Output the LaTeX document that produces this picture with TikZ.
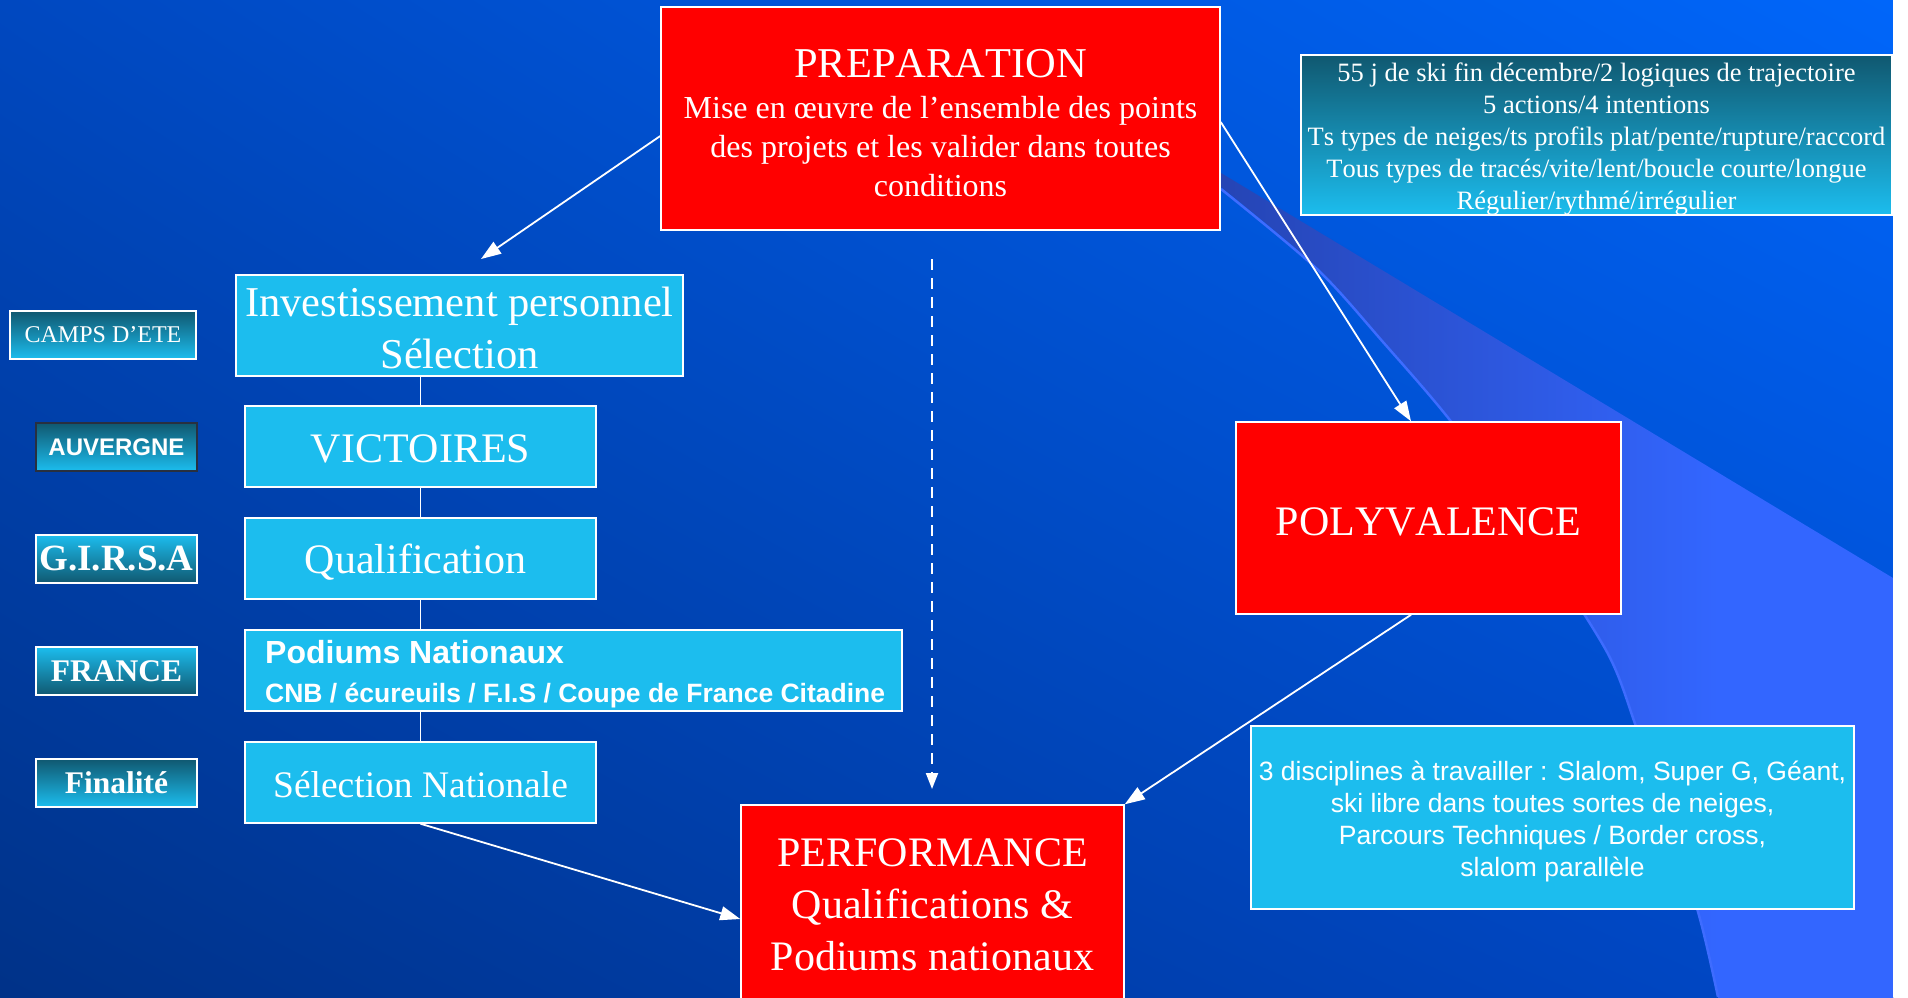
\documentclass[tikz,border=0pt]{standalone}
\usepackage{fontspec}
\setmainfont{Liberation Serif}[Kerning=Off]
\setsansfont{Liberation Sans}
\usetikzlibrary{arrows.meta,calc,shadings}
\definecolor{cyanbox}{RGB}{28,189,238}
\definecolor{tealdark}{RGB}{16,88,112}
\definecolor{redbox}{RGB}{255,0,0}
\definecolor{bgUL}{RGB}{0,72,192}
\definecolor{bgUR}{RGB}{0,102,250}
\definecolor{bgLL}{RGB}{0,50,136}
\definecolor{bgLR}{RGB}{0,72,200}
\definecolor{swA}{RGB}{28,46,130}
\definecolor{swB}{RGB}{51,102,255}
\definecolor{swEdge}{RGB}{62,108,255}
\pgfdeclarehorizontalshading{swoosh}{100bp}{color(0bp)=(swA); color(62bp)=(swB); color(100bp)=(swB)}
\tikzset{
  redn/.style={draw=white, line width=1.5pt, fill=redbox, inner sep=0pt},
  cyann/.style={draw=white, line width=1.5pt, fill=cyanbox, inner sep=0pt},
  txt/.style={text=white, align=center, inner sep=0pt},
  lab/.style={draw=white, line width=1.5pt, text=white, align=center, inner sep=0pt, minimum width=161pt, minimum height=48pt},
  darktop/.style={top color=tealdark, bottom color=cyanbox},
  lighttop/.style={top color=cyanbox, bottom color=tealdark},
  arr/.style={draw=white, line width=1.8pt, -{Triangle[length=20pt,width=14pt]}},
  link/.style={draw=white, line width=1.8pt},
  dashlink/.style={draw=white, line width=2pt, dash pattern=on 11pt off 8pt, -{Triangle[length=16pt,width=12pt]}},
}
\begin{document}
\begin{tikzpicture}[x=1pt,y=-1pt]
\useasboundingbox (0,0) rectangle (1908,997);
% background
\shade[upper left=bgUL, upper right=bgUR, lower left=bgLL, lower right=bgLR] (0,0) rectangle (1893,997);
\shade[shading=swoosh] (1221,173) -- (1893,578) -- (1893,1000) -- (1718,1000)
  -- plot[smooth] coordinates {(1718,997) (1700,917) (1665,800) (1637,727) (1607,650) (1530,530) (1453,422) (1383,340) (1317,267) (1221,187)} -- cycle;
\draw[swEdge, line width=2.5pt] plot[smooth] coordinates {(1221,189) (1317,269) (1383,342) (1453,424) (1530,532) (1607,652) (1637,729) (1665,802) (1700,919) (1718,997)};
\fill[white] (1893,0) rectangle (1908,997);

% main boxes
\node[redn, minimum width=559pt, minimum height=223pt] (prep) at (940.5,118.5) {};
\node[txt, font=\fontsize{32}{39}\selectfont] (prept) at (940.5,123.5)
  {{\fontsize{42.5}{50}\selectfont PREPARATION}\\[2pt]Mise en œuvre de l’ensemble des points\\des projets et les valider dans toutes\\conditions};
\node[draw=white, line width=1.5pt, top color=tealdark, bottom color=cyanbox, inner sep=0pt,
  minimum width=591pt, minimum height=160pt] (info) at (1596.5,135) {};
\node[txt, font=\fontsize{26.5}{32}\selectfont] (infot) at (1596.5,139)
  {55 j de ski fin décembre/2 logiques de trajectoire\\5 actions/4 intentions\\Ts types de neiges/ts profils plat/pente/rupture/raccord\\Tous types de tracés/vite/lent/boucle courte/longue\\Régulier/rythmé/irrégulier};
\node[cyann, minimum width=447pt, minimum height=101pt] (inv) at (459.5,325.5) {};
\node[txt, font=\fontsize{42.5}{52}\selectfont] (invt) at (459.5,327.5) {Investissement personnel\\Sélection};
\node[cyann, minimum width=351pt, minimum height=81pt] (vic) at (420.5,446.5) {};
\node[txt, font=\fontsize{42}{52}\selectfont] (vict) at (420.5,448.5) {VICTOIRES};
\node[cyann, minimum width=351pt, minimum height=81pt] (qual) at (420.5,558.5) {};
\node[txt, font=\fontsize{42}{52}\selectfont] (qualt) at (415.5,562.5) {Qualification};
\node[cyann, minimum width=657pt, minimum height=81pt] (pod) at (573.5,670.5) {};
\node[txt, anchor=west, align=left, font=\sffamily\bfseries\fontsize{26.5}{39}\selectfont] (podt) at (265,674.5)
  {{\fontsize{32}{36}\selectfont Podiums Nationaux}\\CNB / écureuils / F.I.S / Coupe de France Citadine};
\node[cyann, minimum width=351pt, minimum height=81pt] (sel) at (420.5,782.5) {};
\node[txt, font=\fontsize{37.5}{48}\selectfont] (selt) at (420.5,784.5) {Sélection Nationale};
\node[redn, minimum width=385pt, minimum height=192pt] (poly) at (1428.5,518) {};
\node[txt, font=\fontsize{42}{52}\selectfont] (polyt) at (1428.5,522) {POLYVALENCE};
\node[redn, minimum width=383pt, minimum height=200pt] (perf) at (932.5,905) {};
\node[txt, font=\fontsize{42}{52}\selectfont] (perft) at (932.5,905) {PERFORMANCE\\Qualifications \&\\Podiums nationaux};
\node[cyann, minimum width=603pt, minimum height=183pt] (disc) at (1552.5,817.5) {};
\node[txt, font=\sffamily\fontsize{26.5}{32}\selectfont] (disct) at (1552.5,821.5)
  {3 disciplines à travailler : Slalom, Super G, Géant,\\ski libre dans toutes sortes de neiges,\\Parcours Techniques / Border cross,\\slalom parallèle};

% left labels
\node[lab, darktop, minimum width=186pt, font=\fontsize{24}{28}\selectfont] (camps) at (103,335) {CAMPS D’ETE};
\node[lab, darktop, draw={rgb,255:red,40;green,48;blue,64}, font=\sffamily\bfseries\fontsize{24}{28}\selectfont] (auv) at (116.5,447) {AUVERGNE};
\node[lab, lighttop, font=\bfseries\fontsize{37}{40}\selectfont] (girsa) at (116.5,559) {G.I.R.S.A};
\node[lab, lighttop, font=\bfseries\fontsize{31.5}{36}\selectfont] (france) at (116.5,671) {FRANCE};
\node[lab, darktop, font=\bfseries\fontsize{31.5}{36}\selectfont] (final) at (116.5,783) {Finalité};

% connectors
\coordinate (invtop) at (481,259);
\coordinate (dashtop) at (932,259);
\coordinate (dashbot) at (932,789);
\draw[arr] ([yshift=-17.5pt]prep.west) -- (invtop);
\draw[dashlink] (dashtop) -- (dashbot);
\draw[arr] ([yshift=-3.5pt]prep.east) -- ([xshift=-17.5pt]poly.north);
\draw[arr] ([xshift=-17.5pt]poly.south) -- (perf.north east);
\draw[arr] (sel.south) -- ([yshift=-14pt]perf.west);
\draw[link] (vic.north) -- (vic.north |- inv.south);
\draw[link] (vic.south) -- (qual.north);
\draw[link] (qual.south) -- (qual.south |- pod.north);
\draw[link] (sel.north) -- (sel.north |- pod.south);
\end{tikzpicture}
\end{document}
